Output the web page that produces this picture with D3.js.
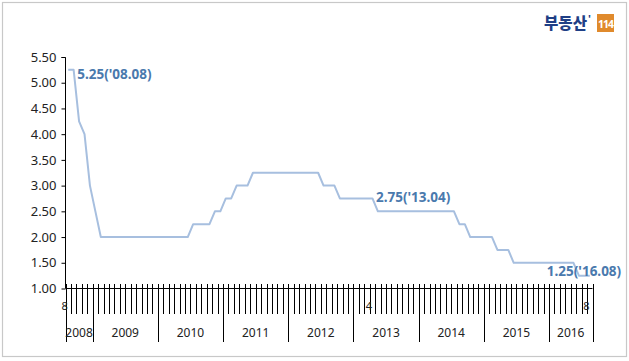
<!DOCTYPE html>
<html><head><meta charset="utf-8">
<script src="https://cdn.jsdelivr.net/npm/d3@7"></script>
<style>
html,body{margin:0;padding:0;background:#fff;}
svg{display:block;font-family:"Noto Sans",sans-serif;}
</style></head>
<body>
<svg id="c" width="629" height="361"></svg>
<script>
// ---- data ----
const startYear = 2008, startMonth = 8, monthCount = 97;
const rates = [
  5.25,5.25,4.25,4.00,3.00,                       // 2008.08-12
  2.50,2.00,2.00,2.00,2.00,2.00,2.00,2.00,2.00,2.00,2.00,2.00, // 2009
  2.00,2.00,2.00,2.00,2.00,2.00,2.25,2.25,2.25,2.25,2.50,2.50, // 2010
  2.75,2.75,3.00,3.00,3.00,3.25,3.25,3.25,3.25,3.25,3.25,3.25, // 2011
  3.25,3.25,3.25,3.25,3.25,3.25,3.00,3.00,3.00,2.75,2.75,2.75, // 2012
  2.75,2.75,2.75,2.75,2.50,2.50,2.50,2.50,2.50,2.50,2.50,2.50, // 2013
  2.50,2.50,2.50,2.50,2.50,2.50,2.50,2.25,2.25,2.00,2.00,2.00, // 2014
  2.00,2.00,1.75,1.75,1.75,1.50,1.50,1.50,1.50,1.50,1.50,1.50, // 2015
  1.50,1.50,1.50,1.50,1.50,1.25,1.25,1.25                      // 2016.01-08
];
const yTicks = [1.00,1.50,2.00,2.50,3.00,3.50,4.00,4.50,5.00,5.50];
const years = ["2008","2009","2010","2011","2012","2013","2014","2015","2016"];
const monthLabels = [{key:"2008-08",text:"8"},{key:"2013-04",text:"4"},{key:"2016-08",text:"8"}];
const annotations = [
  {key:"2008-08", text:"5.25('08.08)"},
  {key:"2013-04", text:"2.75('13.04)"},
  {key:"2016-08", text:"1.25('16.08)"}
];

// categories
const cats = [];
for (let i = 0; i < monthCount; i++) {
  const m0 = startMonth - 1 + i;
  const y = startYear + Math.floor(m0 / 12), m = m0 % 12 + 1;
  cats.push({key: y + "-" + String(m).padStart(2,"0"), year: String(y), month: m, value: rates[i]});
}

const svg = d3.select("#c");
// border
svg.append("rect").attr("x",2.5).attr("y",2.5).attr("width",624).attr("height",354)
  .attr("fill","none").attr("stroke","#c8c8c8").attr("stroke-width",1.2);

// logo
const logo = svg.append("g");
logo.append("text").attr("x",544).attr("y",29).attr("font-family","'Noto Sans CJK KR'")
  .attr("font-weight","900").attr("font-size",15.5).attr("fill","#1f3f86")
  .attr("textLength",43).attr("lengthAdjust","spacingAndGlyphs").text("부동산");
logo.append("text").attr("x",588).attr("y",23).attr("font-family","'Noto Sans'")
  .attr("font-weight","bold").attr("font-size",11).attr("fill","#1f3f86").text("'");
logo.append("rect").attr("x",597).attr("y",14).attr("width",17).attr("height",18).attr("fill","#e08a2c");
logo.append("text").attr("x",605.5).attr("y",27.5).attr("text-anchor","middle").attr("font-family","'Noto Sans'")
  .attr("font-weight","bold").attr("font-size",10.5).attr("fill","#fff").attr("letter-spacing","-1").text("114");

const x = d3.scaleBand().domain(cats.map(d=>d.key)).range([65.5, 592.5]).paddingInner(0).paddingOuter(0);
const y = d3.scaleLinear().domain([1, 5.5]).range([288.5, 57]);
const cx = k => x(k) + x.bandwidth()/2;

// y axis
const yAxis = d3.axisLeft(y).tickValues(yTicks).tickFormat(d3.format(".2f")).tickSize(4).tickPadding(5);
const gy = svg.append("g").attr("transform","translate(65.5,0)").call(yAxis);
gy.select(".domain").attr("stroke","#000").attr("d","M-4,57.5H0V288.5");
gy.selectAll(".tick line").attr("stroke","#000");
gy.selectAll(".tick text").attr("font-size",13).attr("fill","#222").attr("font-family","'Noto Sans'");

// x axis line
svg.append("line").attr("x1",65.5).attr("x2",592.5).attr("y1",288.5).attr("y2",288.5).attr("stroke","#000");
// month ticks at category boundaries
const bounds = cats.map(d=>x(d.key)).concat([x.range()[1]]);
svg.append("g").selectAll("line").data(bounds).join("line")
  .attr("x1",d=>Math.round(d)+0.5).attr("x2",d=>Math.round(d)+0.5)
  .attr("y1",284).attr("y2",314).attr("stroke","#000").attr("stroke-width",1);
// year separators
const yearStarts = years.map(yr => cats.find(c=>c.year===yr));
const sepX = yearStarts.map(c=>x(c.key)).concat([x.range()[1]]);
svg.append("g").selectAll("line").data(sepX).join("line")
  .attr("x1",d=>Math.round(d)+0.5).attr("x2",d=>Math.round(d)+0.5)
  .attr("y1",288).attr("y2",342).attr("stroke","#000").attr("stroke-width",1);
// year labels
svg.append("g").selectAll("text").data(years).join("text")
  .attr("x",(yr)=>{const cs=cats.filter(c=>c.year===yr);return (x(cs[0].key)+x(cs[cs.length-1].key)+x.bandwidth())/2;})
  .attr("y",337).attr("text-anchor","middle").attr("font-size",12).attr("fill","#222").text(d=>d);
// month labels
svg.append("g").selectAll("text").data(monthLabels).join("text")
  .attr("x",d=>cx(d.key)-3.5).attr("y",310).attr("text-anchor","middle")
  .attr("font-size",11).attr("fill","#222").text(d=>d.text);

// line
const line = d3.line().x(d=>cx(d.key)).y(d=>y(d.value));
svg.append("path").datum(cats).attr("d",line).attr("fill","none")
  .attr("stroke","#a7bfdf").attr("stroke-width",2).attr("stroke-linejoin","round");

// annotations
const annOffset = {"2008-08":[9,9.5],"2013-04":[3.5,4],"2016-08":[-43,0]};
svg.append("g").selectAll("text").data(annotations).join("text")
  .attr("x",d=>cx(d.key)+annOffset[d.key][0])
  .attr("y",d=>{const c=cats.find(q=>q.key===d.key);return y(c.value)+annOffset[d.key][1];})
  .attr("font-size",13.5).attr("font-weight","bold").attr("fill","#4a79ad").text(d=>d.text);
</script>
</body></html>
